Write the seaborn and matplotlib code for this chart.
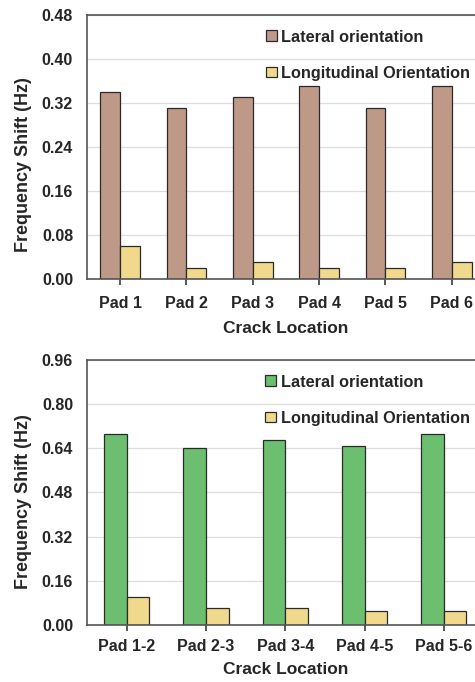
import pandas as pd
import matplotlib.pyplot as plt
import seaborn as sns

# data
pads_single = ['Pad 1', 'Pad 2', 'Pad 3', 'Pad 4', 'Pad 5', 'Pad 6']
lat_single = [0.34, 0.31, 0.33, 0.35, 0.31, 0.35]
lon_single = [0.06, 0.02, 0.03, 0.02, 0.02, 0.03]

pads_pair = ['Pad 1-2', 'Pad 2-3', 'Pad 3-4', 'Pad 4-5', 'Pad 5-6']
lat_pair = [0.69, 0.64, 0.67, 0.65, 0.69]
lon_pair = [0.10, 0.06, 0.06, 0.05, 0.05]

series = ['Lateral orientation', 'Longitudinal Orientation']
yticks_top = [0.00, 0.08, 0.16, 0.24, 0.32, 0.40, 0.48]
yticks_bot = [0.00, 0.16, 0.32, 0.48, 0.64, 0.80, 0.96]

sns.set_theme(style='white')
plt.rcParams['font.family'] = ['Liberation Sans', 'DejaVu Sans']
plt.rcParams['font.weight'] = 'bold'

def long_df(cats, lat, lon):
    return pd.DataFrame({
        'loc': cats * 2,
        'val': lat + lon,
        'ori': [series[0]] * len(cats) + [series[1]] * len(cats),
    })

fig = plt.figure(figsize=(4.75, 6.82), dpi=100)
ax1 = fig.add_axes([0.183, 0.591, 0.838, 0.387])
ax2 = fig.add_axes([0.183, 0.0836, 0.835, 0.3886])

panels = [
    (ax1, long_df(pads_single, lat_single, lon_single), ['#BF9988', '#F0D98C'], yticks_top, 0.6, 8, 7.5, 0.432),
    (ax2, long_df(pads_pair, lat_pair, lon_pair), ['#6CBF6F', '#F0D98C'], yticks_bot, 0.57, 6, 6, 0.464),
]

for ax, df, pal, yt, w, xpad, lpad, ylab_y in panels:
    sns.barplot(data=df, x='loc', y='val', hue='ori', palette=pal, width=w,
                edgecolor='#2a2a2a', linewidth=0.9, saturation=1, ax=ax)
    ax.set_ylim(yt[0], yt[-1])
    ax.set_yticks(yt)
    ax.set_yticklabels([f'{t:.2f}' for t in yt], fontsize=11.5, fontweight='bold')
    ax.set_xlim(-0.5, len(df) / 2 - 0.5)
    ax.tick_params(axis='x', labelsize=11.5, pad=xpad, length=4, bottom=True, color='#444444')
    ax.tick_params(axis='y', pad=10, length=0)
    for lab in ax.get_xticklabels():
        lab.set_fontweight('bold')
    ax.yaxis.grid(True, color='#dddddd', linewidth=0.9)
    ax.set_axisbelow(True)
    for s in ['left', 'bottom', 'top']:
        ax.spines[s].set_color('#555555')
        ax.spines[s].set_linewidth(1.2)
    ax.spines['right'].set_visible(False)
    ax.set_xlabel('Crack Location', fontsize=12.5, fontweight='bold', labelpad=lpad)
    ax.set_ylabel('Frequency Shift (Hz)', fontsize=13, fontweight='bold')
    ax.yaxis.set_label_coords(-0.138, ylab_y)
    ax.legend(loc='upper left', bbox_to_anchor=(0.45, 0.945), frameon=False,
              handlelength=0.65, handleheight=0.65, handletextpad=0.3,
              labelspacing=1.3, borderpad=0, borderaxespad=0,
              prop={'size': 11.7, 'weight': 'bold'})

fig.savefig('out.png', dpi=100)
